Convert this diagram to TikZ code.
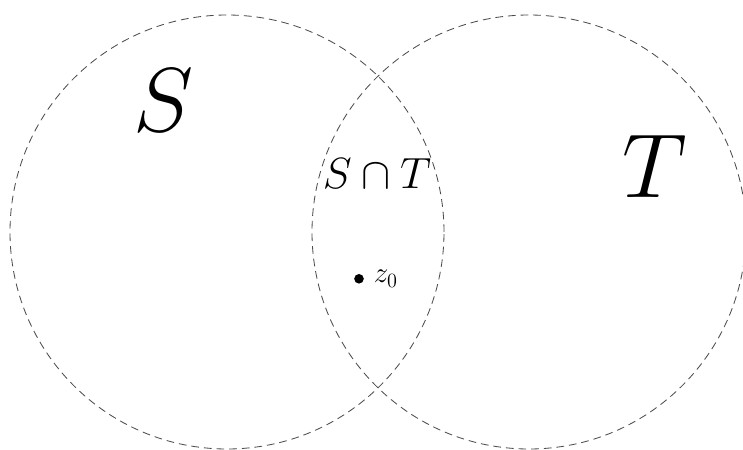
\documentclass[tikz,border=0pt]{standalone}
\usepackage{amsmath,amssymb}
\usetikzlibrary{positioning}
\begin{document}
\begin{tikzpicture}[node distance=3mm,
 set/.style={draw=black!70,line width=0.6pt,dash pattern=on 5.5pt off 3.5pt},
 big/.style={font=\Huge,scale=2.6},
 mid/.style={font=\Huge,scale=1.25},
 small/.style={font=\huge}]
\useasboundingbox (0,0) rectangle (18.575,11.25);
\coordinate (cS) at (5.675,5.45);
\coordinate (cT) at (13.225,5.45);
\draw[set] (cS) circle (5.425);
\draw[set] (cT) circle (5.425);
\node[big] (S) at (4.08,8.75) {$S$};
\node[big] (T) at (16.375,7.1) {$T$};
\node[mid] (ST) at (9.425,6.9) {$S\cap T$};
\node[fill,circle,inner sep=0pt,minimum size=2.4mm] (dot) at (8.975,4.28) {};
\node[small,right=1.2mm of dot] (z0) {$z_0$};
\end{tikzpicture}
\end{document}
